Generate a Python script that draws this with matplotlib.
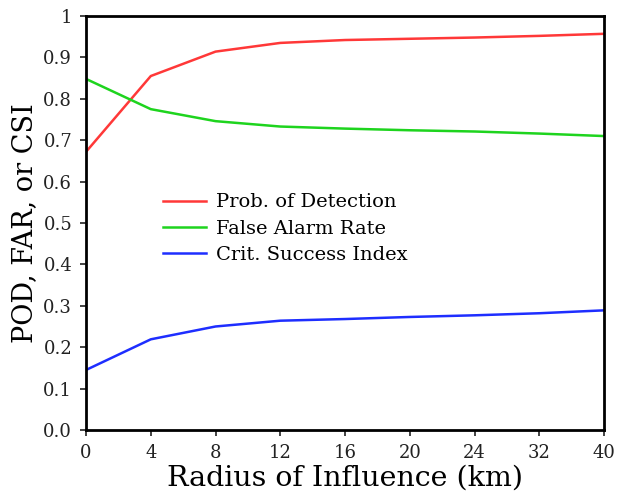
import numpy as np
import matplotlib.pyplot as plt

radius = ['0', '4', '8', '12', '16', '20', '24', '32', '40']
pod = [0.672, 0.855, 0.914, 0.935, 0.942, 0.945, 0.948, 0.952, 0.957]
far = [0.848, 0.775, 0.746, 0.733, 0.728, 0.724, 0.721, 0.716, 0.710]
csi = [0.145, 0.219, 0.250, 0.264, 0.268, 0.273, 0.277, 0.282, 0.289]

plt.rcParams['font.family'] = 'DejaVu Serif'

fig = plt.figure(figsize=(6.28, 4.94), dpi=100)
ax = fig.add_axes([0.137, 0.1296, 0.825, 0.838])

x = np.arange(len(radius))
ax.plot(x, pod, color='#ff3838', lw=1.8, label='Prob. of Detection')
ax.plot(x, far, color='#1ed41e', lw=1.8, label='False Alarm Rate')
ax.plot(x, csi, color='#1e2eff', lw=1.8, label='Crit. Success Index')

ax.set_xlim(0, len(radius) - 1)
ax.set_ylim(0, 1)
ax.set_xticks(x)
ax.set_xticklabels(radius)
ax.set_yticks(np.arange(0, 1.01, 0.1))
ax.set_yticklabels(['0.0', '0.1', '0.2', '0.3', '0.4', '0.5', '0.6', '0.7', '0.8', '0.9', '1'])
ax.tick_params(direction='out', length=4, width=1.2, labelsize=13, pad=6, colors='#222222')
for s in ax.spines.values():
    s.set_linewidth(2)

ax.set_xlabel('Radius of Influence (km)', fontsize=20.5, labelpad=2)
ax.set_ylabel('POD, FAR, or CSI', fontsize=19.5, labelpad=4)

leg = ax.legend(loc='upper left', bbox_to_anchor=(0.13, 0.595), frameon=False,
                prop={'size': 14}, handlelength=2.2,
                handletextpad=0.5, labelspacing=0.42, borderpad=0)

fig.savefig('out.png')
